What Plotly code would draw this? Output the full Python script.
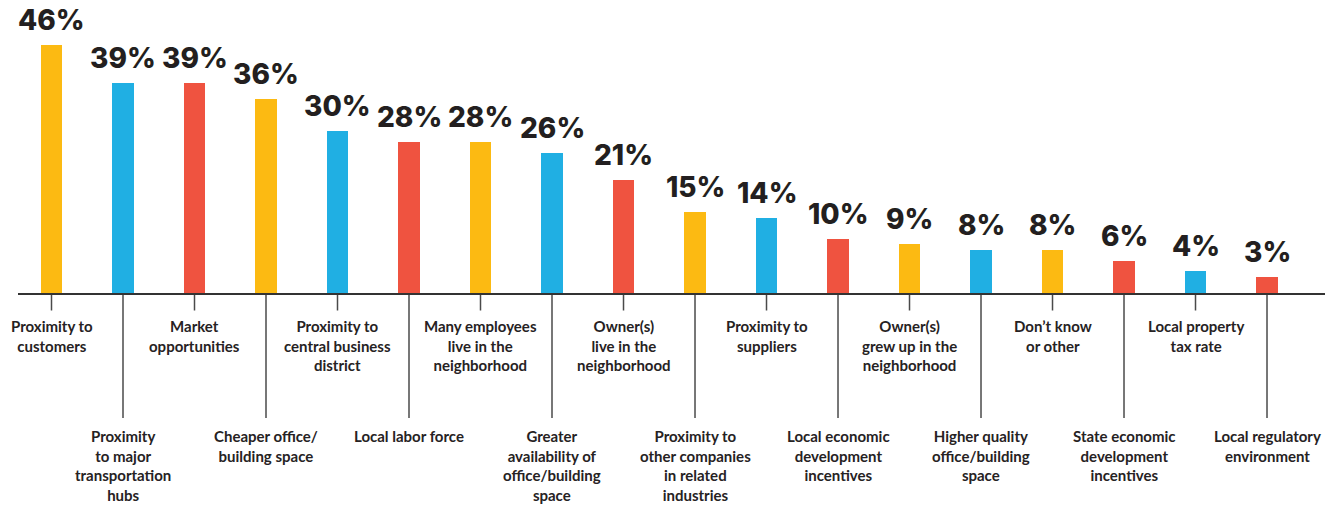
import plotly.graph_objects as go

# Survey responses: reasons for choosing a business location
categories = [
    "Proximity to<br>customers",
    "Proximity<br>to major<br>transportation<br>hubs",
    "Market<br>opportunities",
    "Cheaper office/<br>building space",
    "Proximity to<br>central business<br>district",
    "Local labor force",
    "Many employees<br>live in the<br>neighborhood",
    "Greater<br>availability of<br>office/building<br>space",
    "Owner(s)<br>live in the<br>neighborhood",
    "Proximity to<br>other companies<br>in related<br>industries",
    "Proximity to<br>suppliers",
    "Local economic<br>development<br>incentives",
    "Owner(s)<br>grew up in the<br>neighborhood",
    "Higher quality<br>office/building<br>space",
    "Don’t know<br>or other",
    "State economic<br>development<br>incentives",
    "Local property<br>tax rate",
    "Local regulatory<br>environment",
]
values = [46, 39, 39, 36, 30, 28, 28, 26, 21, 15, 14, 10, 9, 8, 8, 6, 4, 3]

YELLOW = "#FCBA12"
BLUE = "#20AFE3"
RED = "#EF5340"
bar_colors = [YELLOW, BLUE, RED, YELLOW, BLUE, RED, YELLOW, BLUE, RED,
              YELLOW, BLUE, RED, YELLOW, BLUE, YELLOW, RED, BLUE, RED]

W, H = 1340, 508
TOP, BOTTOM = 0, 215
PLOT_H = H - TOP - BOTTOM          # pixel height of the plotting area
BASE = TOP + PLOT_H                # pixel row of the baseline


def paper_y(py):
    """Convert a pixel row (from the top of the page) to paper y."""
    return (BASE - py) / PLOT_H


xs = list(range(len(values)))

fig = go.Figure(
    go.Bar(
        x=xs,
        y=values,
        width=0.295,
        marker=dict(color=bar_colors, line=dict(width=0)),
        hoverinfo="skip",
    )
)

annotations = []
shapes = []
for i, (cat, v) in enumerate(zip(categories, values)):
    # value label above each bar
    annotations.append(dict(
        x=i, y=v, xref="x", yref="y",
        text=f"{v}%", showarrow=False,
        yanchor="bottom", xanchor="center", yshift=6,
        font=dict(family="Inter", size=28, color="#231F20", weight=800),
    ))
    # alternating short / long leader lines under the axis
    long_leader = i % 2 == 1
    tick_end = 418 if long_leader else 310.5
    shapes.append(dict(
        type="line", xref="x", yref="paper",
        x0=i, x1=i, y0=0, y1=paper_y(tick_end),
        line=dict(color="#4a4a4a", width=1.5),
        layer="below",
    ))
    label_top = 425 if long_leader else 315
    annotations.append(dict(
        x=i, y=paper_y(label_top), xref="x", yref="paper",
        text=cat, showarrow=False, align="center",
        yanchor="top", xanchor="center",
        font=dict(family="Lato", size=15, color="#262223", weight="bold"),
    ))

fig.update_layout(
    width=W, height=H,
    margin=dict(l=18, r=15, t=TOP, b=BOTTOM, pad=0),
    paper_bgcolor="white",
    plot_bgcolor="white",
    showlegend=False,
    bargap=0,
    xaxis=dict(
        range=[-0.4685, 17.811],
        showgrid=False, zeroline=False,
        showticklabels=False, ticks="",
        showline=True, linecolor="#333333", linewidth=2,
        fixedrange=True,
    ),
    yaxis=dict(
        range=[0, PLOT_H / 5.39],
        visible=False, showgrid=False, zeroline=False,
        fixedrange=True,
    ),
    annotations=annotations,
    shapes=shapes,
)

fig.update_traces(cliponaxis=False)

fig.write_html("out.html", config={"displayModeBar": False})
